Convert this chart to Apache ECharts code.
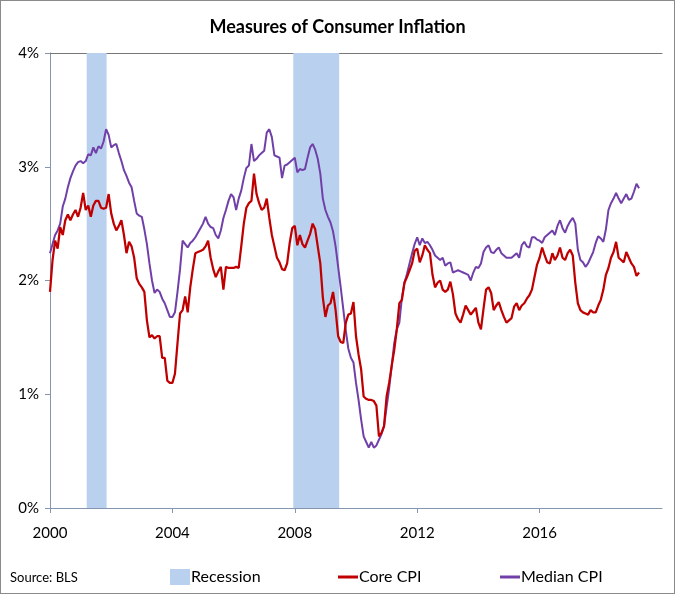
<!DOCTYPE html>
<html>
<head>
<meta charset="utf-8">
<script src="https://cdn.jsdelivr.net/npm/echarts@6/dist/echarts.min.js"></script>
<style>
  html, body { margin: 0; padding: 0; background: #fff; }
  #chart { width: 675px; height: 594px; box-sizing: border-box; border: 1px solid #8a8a8a; }
</style>
</head>
<body>
<div id="chart"></div>
<script>
// Monthly year-over-year % change, Jan 2000 .. Apr 2019
const startYear = 2000;
const coreCPI = [
  1.90, 2.18, 2.35, 2.28, 2.47, 2.40, 2.53, 2.58, 2.53, 2.58, 2.62, 2.56, // 2000
  2.64, 2.77, 2.62, 2.66, 2.56, 2.66, 2.70, 2.70, 2.64, 2.63, 2.64, 2.76, // 2001
  2.59, 2.50, 2.44, 2.48, 2.53, 2.40, 2.24, 2.34, 2.30, 2.20, 2.02, 1.97, // 2002
  1.94, 1.90, 1.65, 1.50, 1.52, 1.49, 1.51, 1.51, 1.32, 1.32, 1.12, 1.10, // 2003
  1.10, 1.18, 1.45, 1.71, 1.74, 1.86, 1.72, 1.94, 2.10, 2.24, 2.25, 2.26, // 2004
  2.27, 2.30, 2.35, 2.20, 2.10, 2.03, 2.08, 2.12, 1.92, 2.12, 2.11, 2.11, // 2005
  2.11, 2.12, 2.11, 2.30, 2.50, 2.64, 2.68, 2.70, 2.94, 2.76, 2.68, 2.62, // 2006
  2.64, 2.72, 2.55, 2.40, 2.30, 2.20, 2.16, 2.10, 2.09, 2.15, 2.33, 2.46, // 2007
  2.48, 2.31, 2.40, 2.32, 2.29, 2.35, 2.41, 2.50, 2.45, 2.30, 2.15, 1.85, // 2008
  1.68, 1.78, 1.80, 1.90, 1.74, 1.51, 1.46, 1.45, 1.63, 1.70, 1.71, 1.81, // 2009
  1.51, 1.35, 1.22, 0.98, 0.96, 0.95, 0.95, 0.94, 0.90, 0.63, 0.66, 0.72, // 2010
  0.98, 1.10, 1.25, 1.39, 1.57, 1.80, 1.83, 1.98, 2.03, 2.09, 2.15, 2.26, // 2011
  2.28, 2.16, 2.22, 2.31, 2.27, 2.24, 2.05, 1.94, 1.98, 2.00, 1.92, 1.90, // 2012
  1.92, 1.99, 1.88, 1.71, 1.66, 1.63, 1.70, 1.78, 1.74, 1.70, 1.73, 1.76, // 2013
  1.63, 1.57, 1.75, 1.92, 1.94, 1.89, 1.74, 1.78, 1.81, 1.74, 1.68, 1.63, // 2014
  1.65, 1.67, 1.77, 1.80, 1.74, 1.78, 1.80, 1.84, 1.87, 1.92, 2.03, 2.14, // 2015
  2.20, 2.29, 2.22, 2.16, 2.15, 2.24, 2.18, 2.22, 2.29, 2.20, 2.18, 2.24, // 2016
  2.27, 2.22, 1.98, 1.80, 1.74, 1.72, 1.71, 1.70, 1.74, 1.72, 1.72, 1.78, // 2017
  1.83, 1.92, 2.05, 2.11, 2.20, 2.25, 2.34, 2.20, 2.18, 2.16, 2.25, 2.20, // 2018
  2.15, 2.12, 2.04, 2.07                                                  // 2019
];
const medianCPI = [
  2.24, 2.32, 2.40, 2.44, 2.50, 2.65, 2.72, 2.82, 2.90, 2.96, 3.01, 3.04, // 2000
  3.05, 3.03, 3.05, 3.11, 3.10, 3.17, 3.12, 3.18, 3.16, 3.22, 3.33, 3.28, // 2001
  3.17, 3.19, 3.20, 3.12, 3.05, 2.97, 2.92, 2.86, 2.82, 2.70, 2.59, 2.57, // 2002
  2.56, 2.45, 2.32, 2.15, 2.00, 1.89, 1.92, 1.90, 1.84, 1.80, 1.74, 1.68, // 2003
  1.68, 1.72, 1.90, 2.10, 2.35, 2.32, 2.29, 2.33, 2.35, 2.38, 2.42, 2.46, // 2004
  2.50, 2.56, 2.50, 2.47, 2.46, 2.40, 2.37, 2.44, 2.55, 2.62, 2.70, 2.76, // 2005
  2.73, 2.62, 2.72, 2.79, 2.90, 2.99, 3.01, 3.20, 3.05, 3.07, 3.10, 3.12, // 2006
  3.14, 3.30, 3.33, 3.26, 3.10, 3.09, 3.08, 2.90, 3.01, 3.02, 3.04, 3.06, // 2007
  3.08, 2.95, 2.98, 2.97, 2.98, 3.08, 3.17, 3.20, 3.15, 3.07, 2.94, 2.72, // 2008
  2.62, 2.56, 2.51, 2.43, 2.30, 2.12, 1.94, 1.75, 1.56, 1.40, 1.32, 1.28, // 2009
  1.10, 0.95, 0.78, 0.63, 0.58, 0.53, 0.58, 0.53, 0.55, 0.60, 0.65, 0.72, // 2010
  0.89, 1.05, 1.25, 1.45, 1.57, 1.63, 1.85, 1.98, 2.06, 2.15, 2.24, 2.32, // 2011
  2.38, 2.31, 2.37, 2.33, 2.34, 2.31, 2.27, 2.22, 2.20, 2.18, 2.20, 2.13, // 2012
  2.15, 2.16, 2.07, 2.08, 2.09, 2.08, 2.07, 2.06, 2.05, 2.00, 2.07, 2.12, // 2013
  2.11, 2.15, 2.25, 2.29, 2.31, 2.25, 2.24, 2.27, 2.29, 2.24, 2.22, 2.20, // 2014
  2.20, 2.20, 2.22, 2.24, 2.20, 2.31, 2.34, 2.30, 2.29, 2.38, 2.38, 2.36, // 2015
  2.35, 2.33, 2.38, 2.40, 2.42, 2.44, 2.40, 2.48, 2.53, 2.46, 2.42, 2.48, // 2016
  2.52, 2.55, 2.50, 2.27, 2.18, 2.16, 2.12, 2.15, 2.20, 2.25, 2.33, 2.39, // 2017
  2.37, 2.34, 2.45, 2.62, 2.68, 2.72, 2.77, 2.72, 2.68, 2.72, 2.76, 2.71, // 2018
  2.72, 2.78, 2.85, 2.81                                                  // 2019
];
const recessionStart = [2001.2, 2007.95];
const recessionEnd = [2001.85, 2009.45];
const xTicks = [2000, 2004, 2008, 2012, 2016];
const yTicks = [0, 1, 2, 3, 4];

const FONT = "Lato, 'Liberation Sans', sans-serif";
const toPairs = arr => arr.map((v, i) => [startYear + i / 12, v]);

const chart = echarts.init(document.getElementById('chart'), null, { renderer: 'canvas' });
chart.setOption({
  animation: false,
  backgroundColor: '#fff',
  textStyle: { fontFamily: FONT },
  title: {
    text: 'Measures of Consumer Inflation',
    left: 'center', top: 12,
    textStyle: { fontFamily: FONT, fontWeight: 'bold', fontSize: 18, color: '#000' }
  },
  grid: { left: 49, right: 12, top: 52, bottom: 85 },
  legend: [
    { data: ['Recession'], left: 164, top: 563, icon: 'rect', itemWidth: 20, itemHeight: 16, itemGap: 0,
      textStyle: { fontFamily: FONT, fontSize: 16, color: '#000', padding: [0, 0, 0, -4] } },
    { data: ['Core CPI'], left: 332, top: 563, icon: 'rect', itemWidth: 20, itemHeight: 3,
      textStyle: { fontFamily: FONT, fontSize: 16, color: '#000', padding: [0, 0, 0, -4] } },
    { data: ['Median CPI'], left: 494, top: 563, icon: 'rect', itemWidth: 20, itemHeight: 3,
      textStyle: { fontFamily: FONT, fontSize: 16, color: '#000', padding: [0, 0, 0, -4] } }
  ],
  graphic: [{
    type: 'text', left: 9, top: 570,
    style: { text: 'Source: BLS', fontFamily: FONT, fontSize: 13, fill: '#000' }
  }],
  xAxis: [{
    type: 'value', min: 2000, max: 2020, interval: 4,
    axisLine: { lineStyle: { color: '#8496b0', width: 1 } },
    axisTick: { show: true, length: 5, lineStyle: { color: '#8496b0' } },
    axisLabel: { color: '#000', fontSize: 15, fontFamily: FONT, margin: 18, showMaxLabel: false,
      formatter: v => xTicks.includes(v) ? String(v) : '' },
    splitLine: { show: false }
  }, {
    type: 'value', position: 'top', min: 2000, max: 2020,
    axisLine: { show: true, onZero: false, lineStyle: { color: '#777', width: 1 } },
    axisTick: { show: false }, axisLabel: { show: false }, splitLine: { show: false }
  }],
  yAxis: {
    type: 'value', min: 0, max: 4, interval: 1,
    axisLine: { show: true, lineStyle: { color: '#8496b0', width: 1 } },
    axisTick: { show: true, length: 5, lineStyle: { color: '#8496b0' } },
    axisLabel: { color: '#000', fontSize: 15, fontFamily: FONT, margin: 11,
      formatter: v => yTicks.includes(v) ? v + '%' : '' },
    splitLine: { show: false }
  },
  series: [
    {
      name: 'Recession', type: 'line', data: [], xAxisIndex: 0,
      itemStyle: { color: '#b9d1ee' }, lineStyle: { color: '#b9d1ee' },
      markArea: {
        silent: true,
        itemStyle: { color: '#b9d1ee', opacity: 1 },
        data: recessionStart.map((s, i) => [{ xAxis: s }, { xAxis: recessionEnd[i] }])
      }
    },
    {
      name: 'Median CPI', type: 'line', data: toPairs(medianCPI), xAxisIndex: 0,
      showSymbol: false, symbol: 'none',
      lineStyle: { color: '#7040a8', width: 2 }, itemStyle: { color: '#7040a8' }
    },
    {
      name: 'Core CPI', type: 'line', data: toPairs(coreCPI), xAxisIndex: 0,
      showSymbol: false, symbol: 'none',
      lineStyle: { color: '#c00000', width: 2.25 }, itemStyle: { color: '#c00000' }
    }
  ]
});
</script>
</body>
</html>
